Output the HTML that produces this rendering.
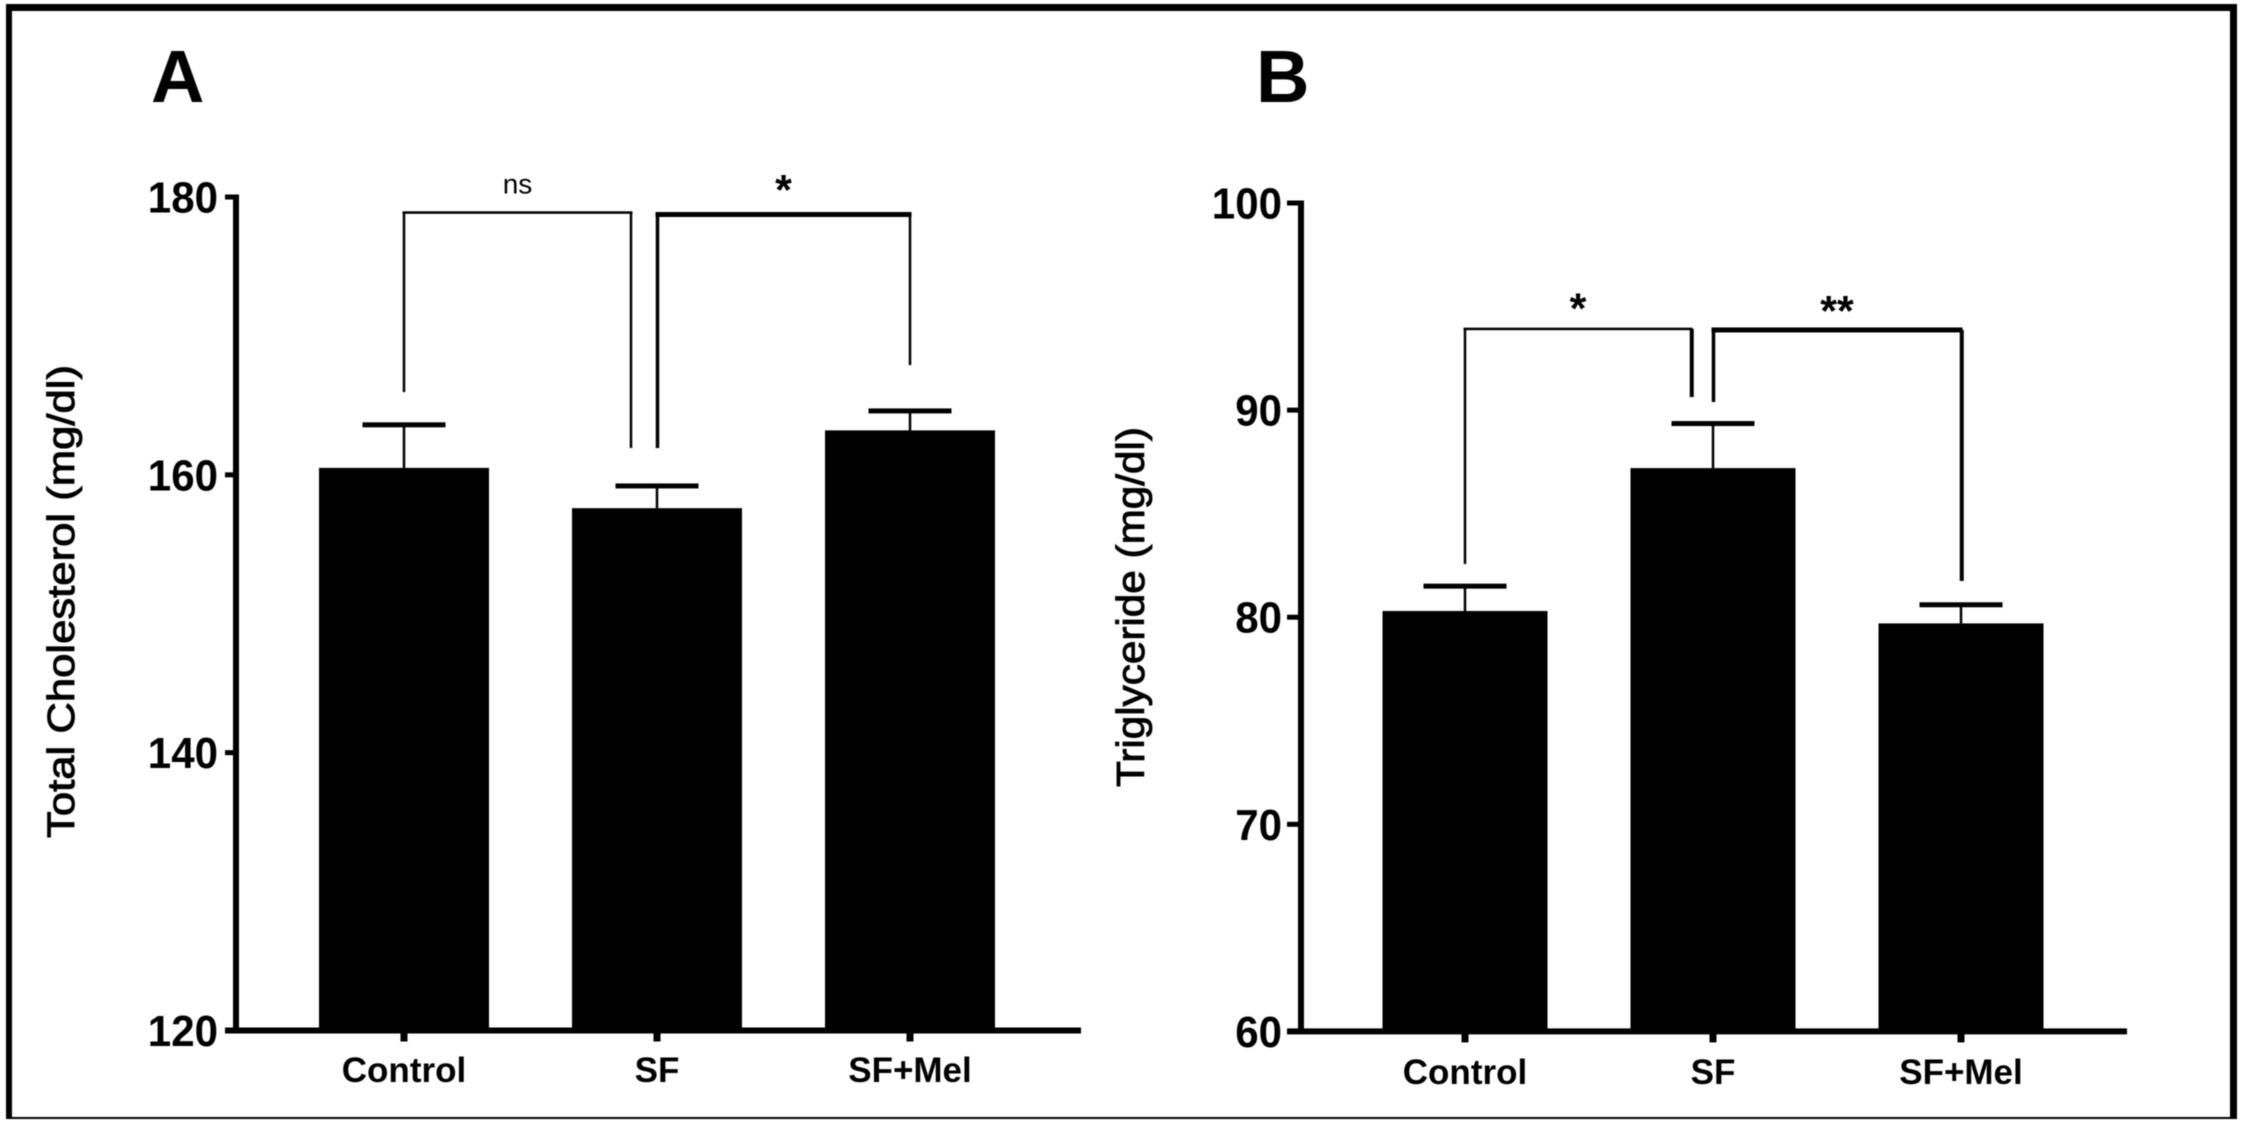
<!DOCTYPE html>
<html lang="en">
<head>
<meta charset="utf-8">
<title>Total Cholesterol and Triglyceride bar charts</title>
<style>
  html, body { margin: 0; padding: 0; background: #fff; }
  svg { display: block; font-family: "Liberation Sans", Arial, sans-serif; filter: blur(0.6px); }
</style>
</head>
<body>
<svg id="figure" width="2249" height="1133" viewBox="0 0 2249 1133" xmlns="http://www.w3.org/2000/svg">
  <rect x="0" y="0" width="2249" height="1133" fill="#fff"/>
  <rect x="6" y="4" width="2231" height="7" fill="#000"/>
  <rect x="6" y="4" width="6" height="1115" fill="#000"/>
  <rect x="2230" y="4" width="7" height="1115" fill="#000"/>
  <rect x="6" y="1117" width="2231" height="2" fill="#000"/>
  <text x="151" y="102" font-size="74" font-weight="700" fill="#000">A</text>
  <text x="1256" y="102" font-size="74" font-weight="700" fill="#000">B</text>
  <text transform="translate(74,838) rotate(-90)" font-size="38" font-weight="400" stroke="#000" stroke-width="0.9" fill="#000" textLength="473" lengthAdjust="spacingAndGlyphs">Total Cholesterol (mg/dl)</text>
  <text transform="translate(1144,787) rotate(-90)" font-size="39" font-weight="400" stroke="#000" stroke-width="0.9" fill="#000" textLength="360" lengthAdjust="spacingAndGlyphs">Triglyceride (mg/dl)</text>
  <g id="panel-a"></g>
  <g id="panel-b"></g>
</svg>
<script>
// Chart data
const categories = ['Control', 'SF', 'SF+Mel'];

const ticksA = [120, 140, 160, 180];
const meansA = [160.5, 157.6, 163.2];
const upperA = [163.6, 159.2, 164.6];

const ticksB = [60, 70, 80, 90, 100];
const meansB = [80.3, 87.2, 79.7];
const upperB = [81.5, 89.35, 80.6];

// Significance brackets: [from category, to category]
const bracketSpansA = [[0, 1], [1, 2]];
const bracketLabelsA = ['ns', '*'];
const bracketTopsA = [178.88, 178.74];
const bracketLeftEndsA = [165.96, 161.93];
const bracketRightEndsA = [161.93, 167.9];

const bracketSpansB = [[0, 1], [1, 2]];
const bracketLabelsB = ['*', '**'];
const bracketTopsB = [93.92, 93.87];
const bracketLeftEndsB = [82.57, 90.39];
const bracketRightEndsB = [90.63, 81.75];

const NS = 'http://www.w3.org/2000/svg';

function addRect(parent, x, y, w, h, name) {
  const el = document.createElementNS(NS, 'rect');
  el.setAttribute('x', x);
  el.setAttribute('y', y);
  el.setAttribute('width', w);
  el.setAttribute('height', h);
  el.setAttribute('fill', '#000');
  
  
  parent.appendChild(el);
  return el;
}

function addText(parent, x, y, str, size, weight, anchor, name) {
  const el = document.createElementNS(NS, 'text');
  el.setAttribute('x', x);
  el.setAttribute('y', y);
  el.setAttribute('font-size', size);
  el.setAttribute('font-weight', weight);
  el.setAttribute('text-anchor', anchor);
  el.setAttribute('fill', '#000');
  
  
  el.textContent = str;
  parent.appendChild(el);
  return el;
}

function drawPanel(g, opt, ticks, means, upper, spans, labels, tops, leftEnds, rightEnds) {
  const yMin = ticks[0];
  const yMax = ticks[ticks.length - 1];
  const yScale = v => opt.yBottom - (v - yMin) / (yMax - yMin) * (opt.yBottom - opt.yTop);
  const xScale = i => opt.xFirst + i * opt.xStep;
  const base = yScale(yMin);

  // bars + error bars
  categories.forEach((cat, i) => {
    const cx = xScale(i);
    const key = cat.toLowerCase().replace('+', '-');
    addRect(g, cx - opt.barW / 2, yScale(means[i]), opt.barW, base - yScale(means[i]), 'bar-' + key);
    addRect(g, cx - 1.25, yScale(upper[i]), 2.5, yScale(means[i]) - yScale(upper[i]), 'error-stem-' + key);
    addRect(g, cx - 41.5, yScale(upper[i]) - 2.5, 83, 5, 'error-cap-' + key);
  });

  // axes
  addRect(g, opt.axisX - 3, yScale(yMax) - 2.5, 6, base - yScale(yMax) + 5, 'y-axis-line');
  addRect(g, opt.axisX - opt.tickLen, base - opt.xAxisTh / 2, opt.axisEnd - opt.axisX + opt.tickLen, opt.xAxisTh, 'x-axis-line');

  // y ticks and labels
  ticks.forEach(t => {
    addRect(g, opt.axisX - opt.tickLen, yScale(t) - 2.5, opt.tickLen, 5, 'y-tick-' + t);
    const lbl = addText(g, opt.axisX - opt.labelGap, yScale(t) + 15.5, String(t), 44, 700, 'end', 'y-tick-label-' + t);
    lbl.setAttribute('textLength', 23.4 * String(t).length);
    lbl.setAttribute('lengthAdjust', 'spacingAndGlyphs');
  });

  // x ticks and labels
  categories.forEach((cat, i) => {
    const key = cat.toLowerCase().replace('+', '-');
    addRect(g, xScale(i) - 3.5, base, 7, 11, 'x-tick-' + key);
    addText(g, xScale(i), opt.catBaseline, cat, 35, 700, 'middle', 'x-tick-label-' + key);
  });

  // significance brackets
  spans.forEach((s, k) => {
    const lx = xScale(s[0]) + 0;
    const rx = xScale(s[1]) - (k === 0 ? opt.gapL : 0);
    const heavy = k === 1;
    const th = heavy ? 5 : 2.5;
    const ty = yScale(tops[k]);
    addRect(g, lx - 1.5, ty - th / 2, rx - lx + 3, th, 'bracket-top-' + k);
    addRect(g, lx - 1.25, ty, heavy ? 3.5 : 2.5, yScale(leftEnds[k]) - ty, 'bracket-left-' + k);
    addRect(g, rx - 1.25, ty, opt.rightStem, yScale(rightEnds[k]) - ty, 'bracket-right-' + k);
    const mid = (lx + rx) / 2;
    const isStar = labels[k].indexOf('*') >= 0;
    addText(g, mid, ty + opt.labelDy[k], labels[k], isStar ? 43 : 28, isStar ? 700 : 400, 'middle', 'significance-label-' + k);
  });
}

drawPanel(document.getElementById('panel-a'),
  { yTop: 197, yBottom: 1030.5, xFirst: 404, xStep: 253, barW: 170, axisX: 236, axisEnd: 1081, tickLen: 11, labelGap: 18, xAxisTh: 6, catBaseline: 1082, gapL: 26, rightStem: 2.5, labelDy: [-19, -10] },
  ticksA, meansA, upperA, bracketSpansA, bracketLabelsA, bracketTopsA, bracketLeftEndsA, bracketRightEndsA);

drawPanel(document.getElementById('panel-b'),
  { yTop: 203, yBottom: 1031.4, xFirst: 1465, xStep: 248, barW: 165, axisX: 1301, axisEnd: 2127, tickLen: 14, labelGap: 19, xAxisTh: 6, catBaseline: 1084, gapL: 22, rightStem: 4, labelDy: [-6, -4.5] },
  ticksB, meansB, upperB, bracketSpansB, bracketLabelsB, bracketTopsB, bracketLeftEndsB, bracketRightEndsB);
</script>
</body>
</html>
